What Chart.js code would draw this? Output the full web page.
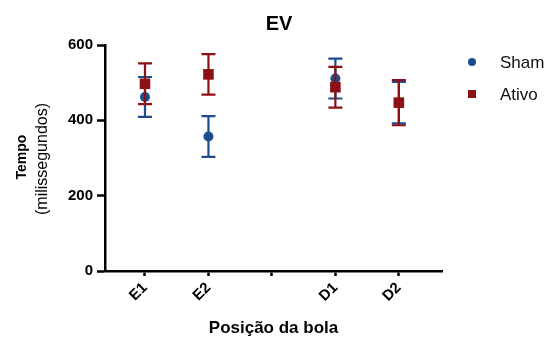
<!DOCTYPE html>
<html>
<head>
<meta charset="utf-8">
<script src="https://cdn.jsdelivr.net/npm/chart.js@4/dist/chart.umd.min.js"></script>
<style>
  html, body { margin: 0; padding: 0; background: #ffffff; }
  #wrap { width: 558px; height: 340px; position: relative; }
  canvas { display: block; }
</style>
</head>
<body>
<div id="wrap"><canvas id="c" width="558" height="340"></canvas></div>
<script>
// ---- data ----
const categories = ['E1', 'E2', '', 'D1', 'D2'];
const yTicks = [0, 200, 400, 600];
const seriesNames = ['Sham', 'Ativo'];
const shamMean = [462, 357, null, 511, 447];
const shamErr  = [53, 54, null, 53, 55];
const ativoMean = [497, 522, null, 488, 447];
const ativoErr  = [54, 54, null, 54, 60];

const FONT = "'Liberation Sans', Arial, Helvetica, sans-serif";
const BLUE = '#1c4d8c';
const RED = '#8b1117';

function toPoints(means) {
  const pts = [];
  means.forEach((v, i) => { if (v !== null) pts.push({ x: i, y: v }); });
  return pts;
}

const errors = [shamErr, ativoErr];
const means = [shamMean, ativoMean];

const errorBarPlugin = {
  id: 'errorBars',
  beforeDatasetDraw(chart, args) {
    const i = args.index;
    const ds = chart.data.datasets[i];
    const xs = chart.scales.x, ys = chart.scales.y;
    const ctx = chart.ctx;
    ctx.save();
    ctx.strokeStyle = ds.borderColor;
    ctx.lineWidth = 2.2;
    means[i].forEach((m, k) => {
      if (m === null) return;
      const e = errors[i][k];
      const px = xs.getPixelForValue(k);
      const top = ys.getPixelForValue(m + e);
      const bot = ys.getPixelForValue(m - e);
      ctx.beginPath();
      ctx.moveTo(px, top); ctx.lineTo(px, bot);
      ctx.moveTo(px - 7, top); ctx.lineTo(px + 7, top);
      ctx.moveTo(px - 7, bot); ctx.lineTo(px + 7, bot);
      ctx.stroke();
    });
    ctx.restore();
  }
};

const extrasPlugin = {
  id: 'extras',
  afterDraw(chart) {
    const ctx = chart.ctx;
    ctx.save();
    ctx.fillStyle = '#000';
    ctx.textAlign = 'center';
    ctx.textBaseline = 'middle';
    ctx.save();
    ctx.translate(22, 157);
    ctx.rotate(-Math.PI / 2);
    ctx.font = 'bold 14px ' + FONT;
    ctx.fillText('Tempo', 0, 0);
    ctx.restore();
    ctx.save();
    ctx.translate(43, 159);
    ctx.rotate(-Math.PI / 2);
    ctx.font = '16px ' + FONT;
    ctx.fillText('(milissegundos)', 0, 0);
    ctx.restore();
    // legend
    const ys = [62, 94];
    chart.data.datasets.forEach((ds, i) => {
      ctx.fillStyle = ds.backgroundColor;
      if (ds.pointStyle === 'circle') {
        ctx.beginPath();
        ctx.arc(472, ys[i], 4, 0, Math.PI * 2);
        ctx.fill();
      } else {
        ctx.fillRect(468, ys[i] - 4, 8, 8);
      }
      ctx.fillStyle = '#111';
      ctx.textAlign = 'left';
      ctx.font = '17px ' + FONT;
      ctx.fillText(ds.label, 500, ys[i] + 1);
    });
    ctx.restore();
  }
};

new Chart(document.getElementById('c'), {
  type: 'scatter',
  data: {
    datasets: [
      {
        label: seriesNames[0],
        data: toPoints(shamMean),
        backgroundColor: BLUE,
        borderColor: BLUE,
        pointStyle: 'circle',
        pointRadius: 5,
        pointHoverRadius: 5,
        borderWidth: 0,
        order: 2
      },
      {
        label: seriesNames[1],
        data: toPoints(ativoMean),
        backgroundColor: RED,
        borderColor: RED,
        pointStyle: 'rect',
        pointRadius: 7.5,
        pointHoverRadius: 7.5,
        borderWidth: 0,
        order: 1
      }
    ]
  },
  options: {
    responsive: false,
    animation: false,
    devicePixelRatio: 1,
    layout: { padding: 0 },
    plugins: {
      legend: { display: false },
      tooltip: { enabled: false },
      title: {
        display: true,
        text: 'EV',
        color: '#000',
        font: { family: FONT, size: 20, weight: 'bold' },
        padding: { top: 12, bottom: 9 }
      }
    },
    scales: {
      x: {
        type: 'linear',
        min: -0.63,
        max: 4.68,
        afterBuildTicks(scale) { scale.ticks = categories.map((c, i) => ({ value: i })); },
        afterFit(scale) { scale.height = 69; },
        ticks: {
          autoSkip: false,
          maxRotation: 45,
          minRotation: 45,
          color: '#000',
          padding: 3,
          font: { family: FONT, size: 15, weight: 'bold' },
          callback: (v) => categories[v] !== undefined ? categories[v] : ''
        },
        grid: { display: true, drawOnChartArea: false, drawTicks: true, tickLength: 5, tickWidth: 2.5, color: '#000' },
        border: { display: true, color: '#000', width: 2.5 },
        title: {
          display: true,
          text: 'Posição da bola',
          color: '#000',
          font: { family: FONT, size: 17, weight: 'bold' },
          padding: { top: 0, bottom: 1 }
        }
      },
      y: {
        min: 0,
        max: 600,
        afterBuildTicks(scale) { scale.ticks = yTicks.map(v => ({ value: v })); },
        afterFit(scale) { scale.width = 105; },
        ticks: {
          color: '#000',
          padding: 4,
          font: { family: FONT, size: 15, weight: 'bold' }
        },
        grid: { display: true, drawOnChartArea: false, drawTicks: true, tickLength: 8, tickWidth: 2.5, color: '#000' },
        border: { display: true, color: '#000', width: 2.5 }
      },
      yRight: {
        type: 'linear',
        position: 'right',
        display: true,
        min: 0,
        max: 600,
        afterFit(scale) { scale.width = 116; },
        ticks: { display: false },
        grid: { display: false, drawTicks: false },
        border: { display: false }
      }
    }
  },
  plugins: [errorBarPlugin, extrasPlugin]
});
</script>
</body>
</html>
